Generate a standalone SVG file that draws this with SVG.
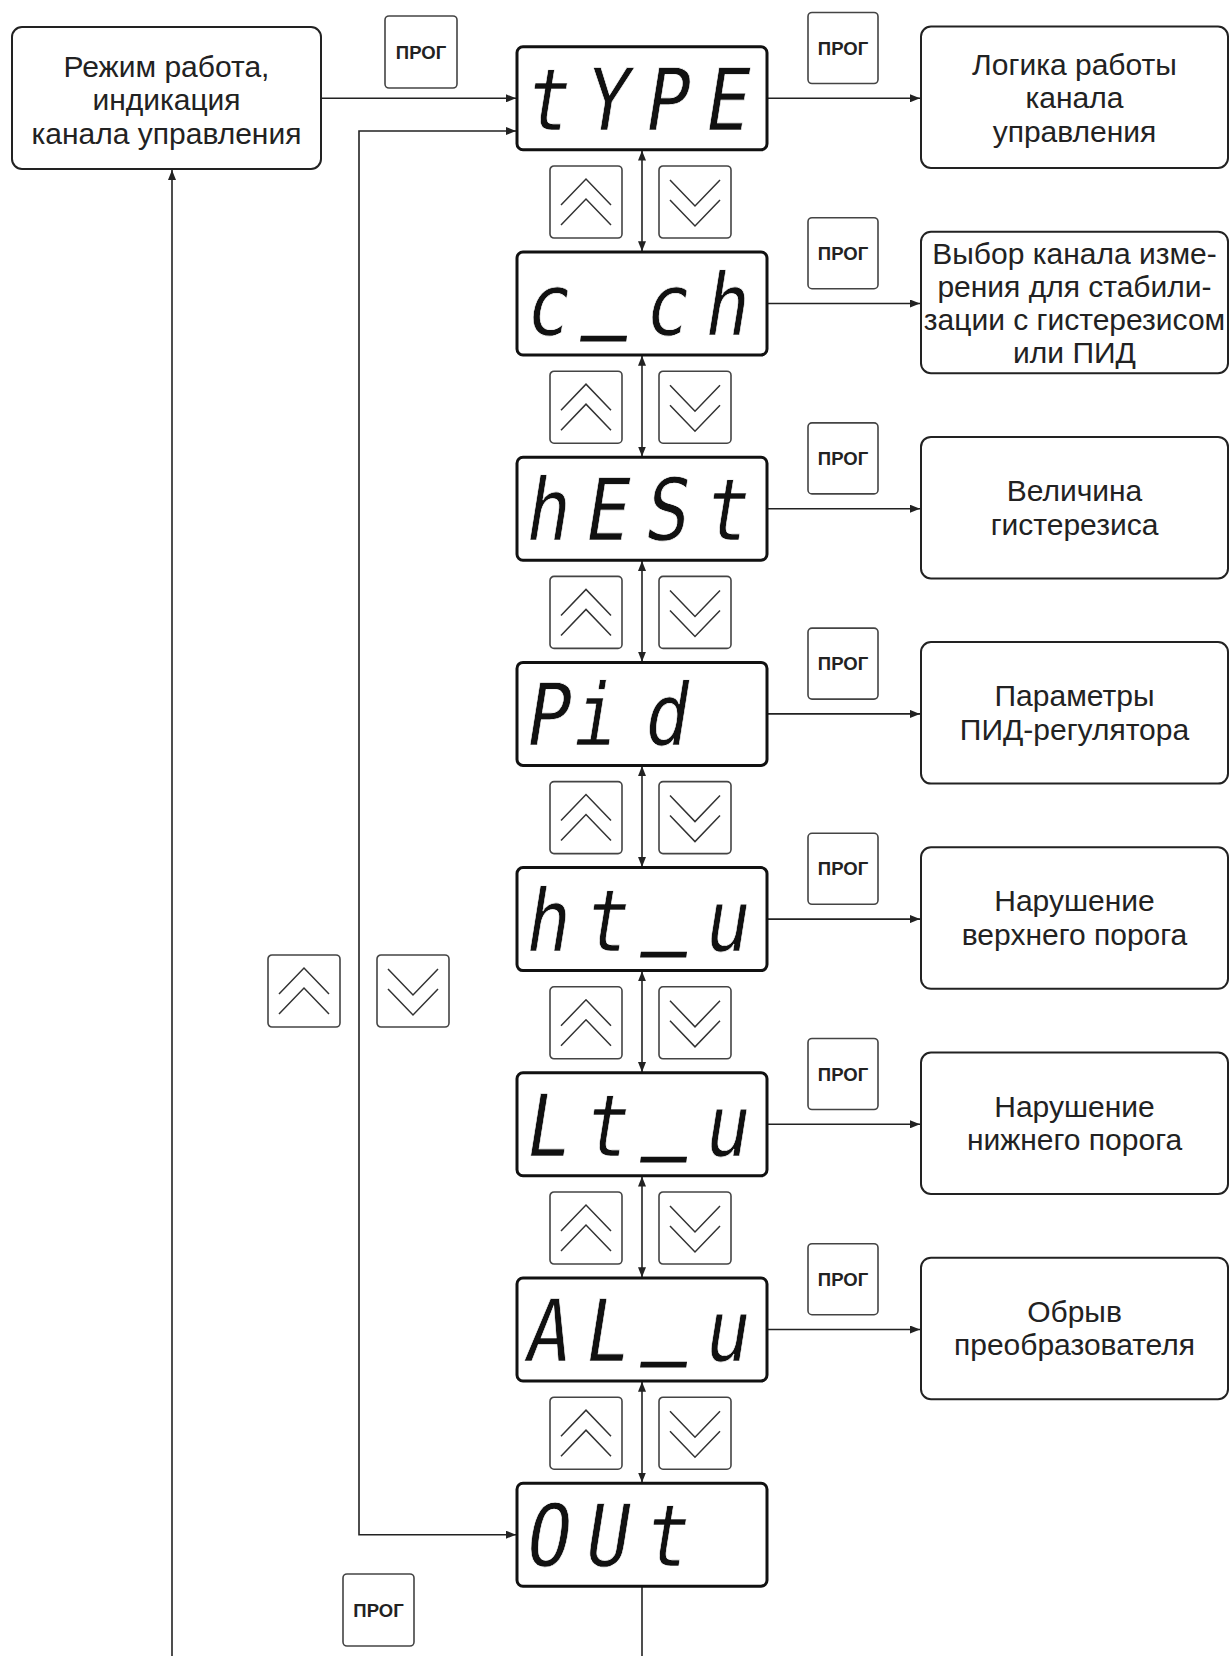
<svg xmlns="http://www.w3.org/2000/svg" xmlns:xlink="http://www.w3.org/1999/xlink" width="1230" height="1656" viewBox="0 0 1230 1656">
<style>
.box{fill:#fff;stroke:#222;stroke-width:2}
.disp{fill:#fff;stroke:#111;stroke-width:3}
.btn{fill:#fff;stroke:#444;stroke-width:1.6}
.chev{fill:none;stroke:#333;stroke-width:1.5}
.lbl{font-family:"Liberation Sans",Arial,sans-serif;font-size:30px;fill:#222;text-anchor:middle}
.prog{font-family:"Liberation Sans",Arial,sans-serif;font-weight:bold;font-size:18.5px;fill:#222;text-anchor:middle}
.seg{font-family:"DejaVu Sans Mono",monospace;font-size:86px;fill:#111;stroke:#fff;stroke-width:0.7;text-anchor:middle}
.us{stroke:#111;stroke-width:2.5}
.conn{fill:none;stroke:#222;stroke-width:1.6}
</style>
<defs>
<marker id="ah" viewBox="0 0 10 8" refX="10" refY="4" markerWidth="10" markerHeight="8" markerUnits="userSpaceOnUse" orient="auto-start-reverse">
<path d="M0,0 L10,4 L0,8 z" fill="#222"/>
</marker>
<g id="up"><rect class="btn" x="0" y="0" width="72" height="72" rx="4"/><path class="chev" d="M11,39 L36,13 L61,39 M11,59 L36,33 L61,59"/></g>
<g id="down"><rect class="btn" x="0" y="0" width="72" height="72" rx="4"/><path class="chev" d="M11,14 L36,40 L61,14 M11,34 L36,60 L61,34"/></g>
</defs>
<rect width="1230" height="1656" fill="#fff"/>

<g id="connectors">
<path class="conn" d="M321,98.3 H516" marker-end="url(#ah)"/>
<path class="conn" d="M516,131 H359 V1534.7 H516" marker-start="url(#ah)" marker-end="url(#ah)"/>
<path class="conn" d="M172,1656 V170" marker-end="url(#ah)"/>
<path class="conn" d="M642,1586.2 V1656"/>
<path class="conn" d="M767,98.3 H920" marker-end="url(#ah)"/>
<path class="conn" d="M767,303.5 H920" marker-end="url(#ah)"/>
<path class="conn" d="M767,508.7 H920" marker-end="url(#ah)"/>
<path class="conn" d="M767,713.9 H920" marker-end="url(#ah)"/>
<path class="conn" d="M767,919.1 H920" marker-end="url(#ah)"/>
<path class="conn" d="M767,1124.3 H920" marker-end="url(#ah)"/>
<path class="conn" d="M767,1329.5 H920" marker-end="url(#ah)"/>
<path class="conn" d="M642,150.5 V251.3" marker-start="url(#ah)" marker-end="url(#ah)"/>
<path class="conn" d="M642,355.7 V456.5" marker-start="url(#ah)" marker-end="url(#ah)"/>
<path class="conn" d="M642,560.9 V661.7" marker-start="url(#ah)" marker-end="url(#ah)"/>
<path class="conn" d="M642,766.1 V866.9" marker-start="url(#ah)" marker-end="url(#ah)"/>
<path class="conn" d="M642,971.3 V1072.1" marker-start="url(#ah)" marker-end="url(#ah)"/>
<path class="conn" d="M642,1176.5 V1277.3" marker-start="url(#ah)" marker-end="url(#ah)"/>
<path class="conn" d="M642,1381.7 V1482.5" marker-start="url(#ah)" marker-end="url(#ah)"/>
</g>

<g id="mode">
<rect class="box" x="12" y="27" width="309" height="142" rx="10"/>
<text class="lbl" x="166.5" y="76.5">Режим работа,</text>
<text class="lbl" x="166.5" y="110">индикация</text>
<text class="lbl" x="166.5" y="143.5">канала управления</text>
</g>

<g id="prog-top"><rect class="btn" x="385" y="16" width="72" height="72" rx="4"/><text class="prog" x="421" y="58.5">ПРОГ</text></g>
<g id="prog-bottom"><rect class="btn" x="343" y="1574" width="71" height="72" rx="4"/><text class="prog" x="378.5" y="1616.5">ПРОГ</text></g>
<g id="nav-left"><use xlink:href="#up" x="268" y="955"/><use xlink:href="#down" x="377" y="955"/></g>

<g id="d-type"><rect class="disp" x="517" y="46.8" width="250" height="103" rx="6"/>
<text class="seg" transform="translate(0,129.8) skewX(-9) scale(0.85,1)" x="641.2 710.6 781.2 851.8" y="0 0 0 0">tYPE</text></g>
<g id="d-cch"><rect class="disp" x="517" y="252" width="250" height="103" rx="6"/>
<text class="seg" transform="translate(0,335) skewX(-9) scale(0.85,1)" x="641.2 710.6 781.2 851.8" y="0 -15 0 0">c<tspan class="us">_</tspan>ch</text></g>
<g id="d-hest"><rect class="disp" x="517" y="457.2" width="250" height="103" rx="6"/>
<text class="seg" transform="translate(0,540.2) skewX(-9) scale(0.85,1)" x="641.2 710.6 781.2 851.8" y="0 0 0 0">hESt</text></g>
<g id="d-pid"><rect class="disp" x="517" y="662.4" width="250" height="103" rx="6"/>
<text class="seg" transform="translate(0,745.4) skewX(-9) scale(0.85,1)" x="641.2 696.5 781.2" y="0 0 0">Pid</text></g>
<g id="d-htu"><rect class="disp" x="517" y="867.6" width="250" height="103" rx="6"/>
<text class="seg" transform="translate(0,950.6) skewX(-9) scale(0.85,1)" x="641.2 710.6 781.2 851.8" y="0 0 -15 0">ht<tspan class="us">_</tspan>u</text></g>
<g id="d-ltu"><rect class="disp" x="517" y="1072.8" width="250" height="103" rx="6"/>
<text class="seg" transform="translate(0,1155.8) skewX(-9) scale(0.85,1)" x="641.2 710.6 781.2 851.8" y="0 0 -15 0">Lt<tspan class="us">_</tspan>u</text></g>
<g id="d-alu"><rect class="disp" x="517" y="1278" width="250" height="103" rx="6"/>
<text class="seg" transform="translate(0,1361) skewX(-9) scale(0.85,1)" x="641.2 710.6 781.2 851.8" y="0 0 -15 0">AL<tspan class="us">_</tspan>u</text></g>
<g id="d-out"><rect class="disp" x="517" y="1483.2" width="250" height="103" rx="6"/>
<text class="seg" transform="translate(0,1566.2) skewX(-9) scale(0.85,1)" x="641.2 710.6 781.2" y="0 0 0">OUt</text></g>

<g id="nav-0"><use xlink:href="#up" x="550" y="166"/><use xlink:href="#down" x="659" y="166"/></g>
<g id="nav-1"><use xlink:href="#up" x="550" y="371.2"/><use xlink:href="#down" x="659" y="371.2"/></g>
<g id="nav-2"><use xlink:href="#up" x="550" y="576.4"/><use xlink:href="#down" x="659" y="576.4"/></g>
<g id="nav-3"><use xlink:href="#up" x="550" y="781.6"/><use xlink:href="#down" x="659" y="781.6"/></g>
<g id="nav-4"><use xlink:href="#up" x="550" y="986.8"/><use xlink:href="#down" x="659" y="986.8"/></g>
<g id="nav-5"><use xlink:href="#up" x="550" y="1192"/><use xlink:href="#down" x="659" y="1192"/></g>
<g id="nav-6"><use xlink:href="#up" x="550" y="1397.2"/><use xlink:href="#down" x="659" y="1397.2"/></g>

<g id="prog-0"><rect class="btn" x="808" y="12.5" width="70" height="71" rx="4"/><text class="prog" x="843" y="54.5">ПРОГ</text></g>
<g id="prog-1"><rect class="btn" x="808" y="217.7" width="70" height="71" rx="4"/><text class="prog" x="843" y="259.7">ПРОГ</text></g>
<g id="prog-2"><rect class="btn" x="808" y="422.9" width="70" height="71" rx="4"/><text class="prog" x="843" y="464.9">ПРОГ</text></g>
<g id="prog-3"><rect class="btn" x="808" y="628.1" width="70" height="71" rx="4"/><text class="prog" x="843" y="670.1">ПРОГ</text></g>
<g id="prog-4"><rect class="btn" x="808" y="833.3" width="70" height="71" rx="4"/><text class="prog" x="843" y="875.3">ПРОГ</text></g>
<g id="prog-5"><rect class="btn" x="808" y="1038.5" width="70" height="71" rx="4"/><text class="prog" x="843" y="1080.5">ПРОГ</text></g>
<g id="prog-6"><rect class="btn" x="808" y="1243.7" width="70" height="71" rx="4"/><text class="prog" x="843" y="1285.7">ПРОГ</text></g>

<g id="b-logic"><rect class="box" x="921" y="26.5" width="307" height="141.5" rx="10"/>
<text class="lbl" x="1074.5" y="74.8">Логика работы</text>
<text class="lbl" x="1074.5" y="108.3">канала</text>
<text class="lbl" x="1074.5" y="141.8">управления</text></g>
<g id="b-channel"><rect class="box" x="921" y="231.7" width="307" height="141.5" rx="10"/>
<text class="lbl" x="1074.5" y="264">Выбор канала изме-</text>
<text class="lbl" x="1074.5" y="297">рения для стабили-</text>
<text class="lbl" x="1074.5" y="330">зации с гистерезисом</text>
<text class="lbl" x="1074.5" y="363">или ПИД</text></g>
<g id="b-hyst"><rect class="box" x="921" y="436.9" width="307" height="141.5" rx="10"/>
<text class="lbl" x="1074.5" y="501">Величина</text>
<text class="lbl" x="1074.5" y="534.5">гистерезиса</text></g>
<g id="b-pid"><rect class="box" x="921" y="642.1" width="307" height="141.5" rx="10"/>
<text class="lbl" x="1074.5" y="706.2">Параметры</text>
<text class="lbl" x="1074.5" y="739.7">ПИД-регулятора</text></g>
<g id="b-high"><rect class="box" x="921" y="847.3" width="307" height="141.5" rx="10"/>
<text class="lbl" x="1074.5" y="911.4">Нарушение</text>
<text class="lbl" x="1074.5" y="944.9">верхнего порога</text></g>
<g id="b-low"><rect class="box" x="921" y="1052.5" width="307" height="141.5" rx="10"/>
<text class="lbl" x="1074.5" y="1116.6">Нарушение</text>
<text class="lbl" x="1074.5" y="1150.1">нижнего порога</text></g>
<g id="b-break"><rect class="box" x="921" y="1257.7" width="307" height="141.5" rx="10"/>
<text class="lbl" x="1074.5" y="1321.8">Обрыв</text>
<text class="lbl" x="1074.5" y="1355.3">преобразователя</text></g>
</svg>
